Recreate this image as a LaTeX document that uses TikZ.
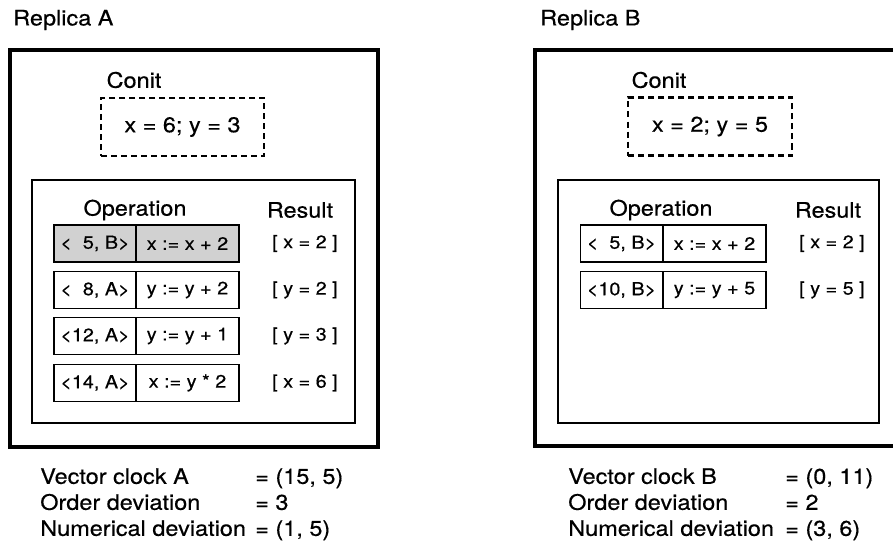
\documentclass[tikz,border=0pt]{standalone}
\usepackage{fontspec}
\setmainfont[FakeStretch=1.1, FakeBold=0.4]{TeX Gyre Heros}
\usepackage{tikz}
\usepackage{xcolor}
\newcommand{\fs}{\hphantom{1}}

\begin{document}
\begin{tikzpicture}[x=0.75pt, y=-0.75pt,
    every node/.style={font=\fontsize{16}{19.5}\selectfont, inner sep=0pt},
    replica/.style={line width=2.6pt},
    opbox/.style={line width=1.6pt},
    conitbox/.style={draw, line width=1.6pt, dash pattern=on 4.5pt off 3pt, minimum height=43.5pt},
    stampcell/.style={draw, line width=1.4pt, minimum width=61.5pt, minimum height=27.75pt, font=\fontsize{13.5}{15}\selectfont},
    opcell/.style={draw, line width=1.4pt, minimum width=77.25pt, minimum height=27.75pt, font=\fontsize{13.5}{15}\selectfont},
    result/.style={font=\fontsize{13.5}{15}\selectfont},
    shaded/.style={fill=black!18}]
        \useasboundingbox (0,0) rectangle (893,560);
        % Replica A
        \node[anchor=west] (titleA) at (13,20) {Replica A};
        \draw[replica] (10,50) rectangle (378,447);
        \node (conitA) at (134,80) {Conit};
        \node[conitbox, minimum width=122.25pt] (valA) at (182.5,127) {x = 6; y = 3};
        \draw[opbox] (32,180) rectangle (355,423);
        \node (opA) at (135,210) {Operation};
        \node (resA) at (300,210) {Result};
        % Operations at A
        \node[stampcell, shaded] (a1s) at (95,243.5) {<\fs5, B>};
        \node[opcell, shaded] (a1o) at (187.5,243.5) {x := x + 2};
        \node[result] (a1r) at (305,243.5) {[ x = 2 ]};
        \node[stampcell] (a2s) at (95,290) {<\fs8, A>};
        \node[opcell] (a2o) at (187.5,290) {y := y + 2};
        \node[result] (a2r) at (305,290) {[ y = 2 ]};
        \node[stampcell] (a3s) at (95,336) {<12, A>};
        \node[opcell] (a3o) at (187.5,336) {y := y + 1};
        \node[result] (a3r) at (305,336) {[ y = 3 ]};
        \node[stampcell] (a4s) at (95,383) {<14, A>};
        \node[opcell] (a4o) at (187.5,383) {x := y * 2};
        \node[result] (a4r) at (305,383) {[ x = 6 ]};
        % Deviations at A
        \node[anchor=north west, align=left] (infoA) at (40,468) {Vector clock A\\ Order deviation\\ Numerical deviation};
        \node[anchor=north west, align=left] (valsA) at (255,468) {= (15, 5)\\ = 3\\ = (1, 5)};

        % Replica B
        \node[anchor=west] (titleB) at (540,20) {Replica B};
        \draw[replica] (893,50) -- (535,50) -- (535,446) -- (893,446);
        \node (conitB) at (659,80) {Conit};
        \node[conitbox, minimum width=123pt] (valB) at (710,126.5) {x = 2; y = 5};
        \draw[opbox] (558,180) rectangle (879,423);
        \node (opB) at (661,210) {Operation};
        \node (resB) at (828,210) {Result};
        % Operations at B
        \node[stampcell] (b1s) at (621.5,243.5) {<\fs5, B>};
        \node[opcell] (b1o) at (714.5,243.5) {x := x + 2};
        \node[result] (b1r) at (832,243.5) {[ x = 2 ]};
        \node[stampcell] (b2s) at (621.5,290) {<10, B>};
        \node[opcell] (b2o) at (714.5,290) {y := y + 5};
        \node[result] (b2r) at (832,290) {[ y = 5 ]};
        % Deviations at B
        \node[anchor=north west, align=left] (infoB) at (568,468) {Vector clock B\\ Order deviation\\ Numerical deviation};
        \node[anchor=north west, align=left] (valsB) at (785,468) {= (0, 11)\\ = 2\\ = (3, 6)};
      \end{tikzpicture}
\end{document}
